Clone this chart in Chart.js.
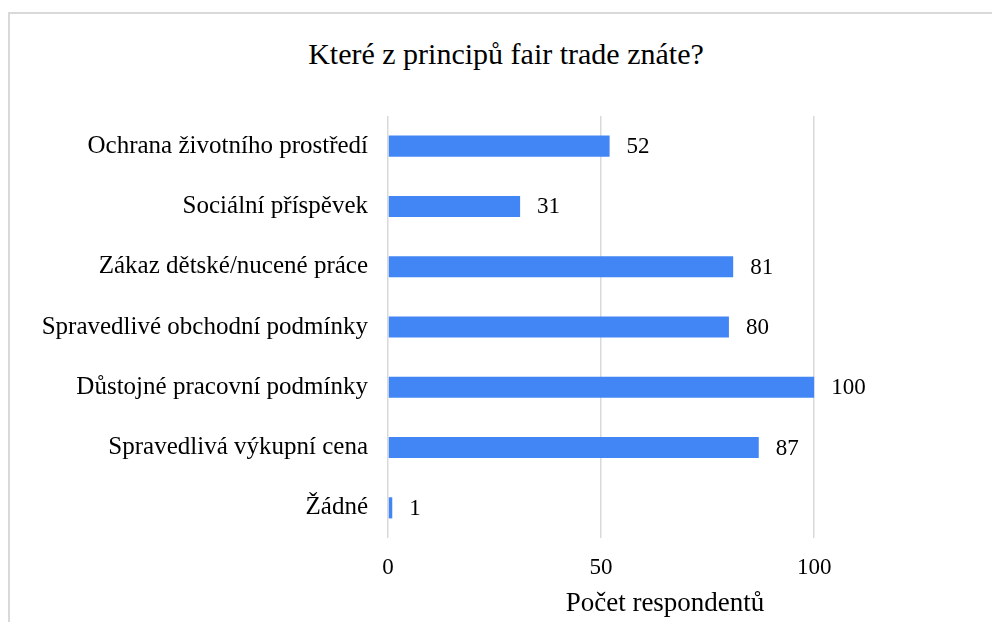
<!DOCTYPE html>
<html>
<head>
<meta charset="utf-8">
<script src="https://cdn.jsdelivr.net/npm/chart.js@4"></script>
<style>
  body { margin: 0; background: #fff; overflow: hidden; }
  #frame { position: absolute; left: 8px; top: 12px; width: 1010px; height: 700px; border: 2px solid #d9d9d9; box-sizing: border-box; }
  #title { position: absolute; left: 0; width: 1012px; top: 37px; text-align: center; font: 30px "Liberation Serif", serif; color: #000; }
  #wrap { position: absolute; left: 0; top: 0; width: 992px; height: 622px; }
</style>
</head>
<body>
<div id="frame"></div>
<div id="title">Které z principů fair trade znáte?</div>
<div id="wrap"><canvas id="chart"></canvas></div>
<script>
// --- Data ---
const categories = [
  "Ochrana životního prostředí",
  "Sociální příspěvek",
  "Zákaz dětské/nucené práce",
  "Spravedlivé obchodní podmínky",
  "Důstojné pracovní podmínky",
  "Spravedlivá výkupní cena",
  "Žádné"
];
const respondents = [52, 31, 81, 80, 100, 87, 1];
const xTicks = [0, 50, 100];
const axisTitle = "Počet respondentů";

const serif = "'Liberation Serif', 'Times New Roman', serif";

// --- Value labels next to bars ---
const valueLabels = {
  id: "valueLabels",
  afterDatasetsDraw(chart) {
    const ctx = chart.ctx;
    const meta = chart.getDatasetMeta(0);
    ctx.save();
    ctx.font = "23px " + serif;
    ctx.fillStyle = "#000";
    ctx.textAlign = "left";
    ctx.textBaseline = "middle";
    meta.data.forEach((bar, i) => {
      ctx.fillText(String(respondents[i]), bar.x + 17, bar.y + 1);
    });
    ctx.restore();
  }
};

new Chart(document.getElementById("chart"), {
  type: "bar",
  data: {
    labels: categories,
    datasets: [{
      data: respondents,
      backgroundColor: "#4285f4",
      categoryPercentage: 1,
      barPercentage: 0.35
    }]
  },
  options: {
    indexAxis: "y",
    responsive: true,
    maintainAspectRatio: false,
    animation: false,
    layout: { padding: { top: 116, right: 50, bottom: 2, left: 0 } },
    plugins: { legend: { display: false }, tooltip: { enabled: false } },
    scales: {
      x: {
        min: 0,
        max: 130,
        afterBuildTicks(scale) {
          scale.ticks = xTicks.map(v => ({ value: v }));
        },
        afterFit(scale) { scale.height = 82; },
        grid: { color: "#d9d9d9", lineWidth: 1.5, drawTicks: false },
        border: { display: false },
        ticks: { color: "#000", font: { family: serif, size: 23 }, padding: 16 },
        title: { display: true, text: axisTitle, color: "#000", font: { family: serif, size: 27 }, padding: { top: 6, bottom: 0 } }
      },
      y: {
        afterFit(scale) { scale.width = 388; },
        grid: { display: false },
        border: { display: false },
        ticks: { color: "#000", font: { family: serif, size: 25 }, padding: 12 }
      }
    }
  },
  plugins: [valueLabels]
});
</script>
</body>
</html>
